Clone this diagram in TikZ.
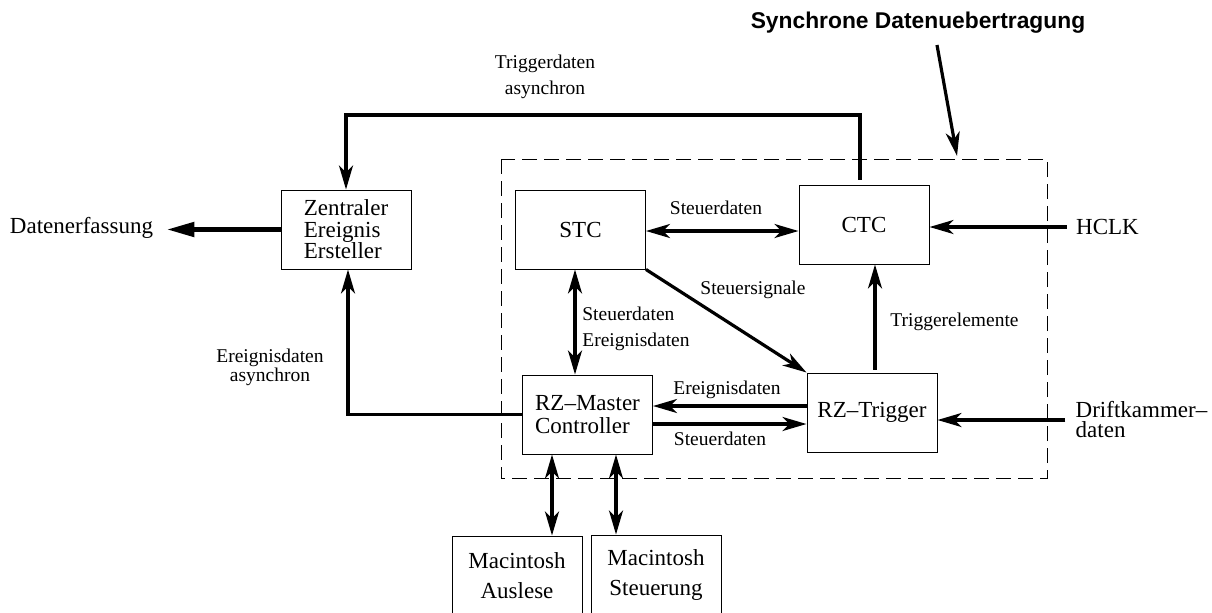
\documentclass[tikz,border=0pt]{standalone}
\usepackage{fontspec}
\setmainfont{Liberation Serif}
\newfontfamily\headfont{Liberation Sans}
\usetikzlibrary{arrows.meta}

\begin{document}
\begin{tikzpicture}[x=0.5pt,y=-0.5pt,
  >={Stealth[length=12pt,width=7pt,inset=3.5pt]},
  blk/.style={draw,line width=0.5pt,minimum width=65pt,minimum height=39.5pt,
    inner sep=0pt,align=left,font=\fontsize{11.5}{11.5}\selectfont},
  macblk/.style={blk,align=center,font=\fontsize{11.5}{15}\selectfont},
  big/.style={inner sep=0pt,align=left,font=\fontsize{11.5}{10}\selectfont},
  lbl/.style={inner sep=0pt,font=\fontsize{9.75}{13}\selectfont},
  conn/.style={line width=1.6pt},
  syncframe/.style={line width=0.5pt,dash pattern=on 7.5pt off 3.5pt}]
  \useasboundingbox (0,0) rectangle (1212,612);

  \draw[syncframe] (501,159) rectangle (1047,478);

  \node[blk,font=\fontsize{11.5}{10.75}\selectfont] (zee) at (346,229.5) {Zentraler\\Ereignis\\Ersteller};
  \node[blk] (stc) at (580.5,229.5) {STC};
  \node[blk] (ctc) at (864,224.5) {CTC};
  \node[blk] (master) at (587.5,414.5) {RZ–Master\\Controller};
  \node[blk] (trigger) at (872,412.5) {RZ–Trigger};
  \node[macblk] (mac1) at (517,575.5) {Macintosh\\Auslese};
  \node[macblk] (mac2) at (656,574.5) {Macintosh\\Steuerung};

  \node[big,inner xsep=6.5pt] (dat) at (81.5,228) {Datenerfassung};
  \node[big,inner xsep=4.5pt] (hclk) at (1107.5,227) {HCLK};
  \node[big,inner xsep=5pt] (drift) at (1141.5,420) {Driftkammer–\\daten};
  \node[inner sep=0pt,font=\headfont\bfseries\fontsize{11.4}{12}\selectfont] (title) at (918,23) {Synchrone Datenuebertragung};

  \node[lbl,align=center] (trglbl) at (545,77) {Triggerdaten\\asynchron};
  \node[lbl,align=center,font=\fontsize{9.75}{9.5}\selectfont] (evlbl) at (270,367.5) {Ereignisdaten\\asynchron};
  \node[lbl] (sd1) at (716,208) {Steuerdaten};
  \node[lbl] (ss) at (753,290) {Steuersignale};
  \node[lbl,anchor=west,align=left] (sdev) at (582,329) {Steuerdaten\\Ereignisdaten};
  \node[lbl] (trel) at (954.5,322) {Triggerelemente};
  \node[lbl] (ev2) at (727,390) {Ereignisdaten};
  \node[lbl] (sd2) at (720,439) {Steuerdaten};

  \coordinate (top) at (0,115);
  \coordinate (synctail) at (937,45);
  \coordinate (synctip) at (957,156);

  \draw[conn,->] (synctail) -- (synctip);
  \draw[conn,->] ([xshift=-2pt,yshift=2.5pt]ctc.north) -- ([xshift=-2pt]ctc.north |- top) -| (zee.north);
  \draw[line width=2.5pt,-{Triangle[length=14pt,width=7pt]}] (zee.west) -- (zee.west -| dat.east);
  \draw[conn,<->] ([yshift=-0.75pt]stc.east) -- ([yshift=-0.75pt]stc.east -| ctc.west);
  \draw[conn,->] (hclk.west) -- (hclk.west -| ctc.east);
  \draw[conn,<->] ([xshift=-2.75pt]stc.south) -- ([xshift=-2.75pt]stc.south |- master.north);
  \draw[conn,->] (stc.south east) -- (trigger.north west);
  \draw[conn,->] ([xshift=1.5pt,yshift=1.5pt]trigger.north) -- ([xshift=1.5pt]trigger.north |- ctc.south);
  \draw[conn,->] ([yshift=3.25pt]trigger.west) -- ([yshift=3.25pt]trigger.west -| master.east);
  \draw[conn,->] ([yshift=-4.75pt]master.east) -- ([yshift=-4.75pt]master.east -| trigger.west);
  \draw[conn,->] (drift.west) -- (drift.west -| trigger.east);
  \draw[conn,->] (master.west) -| ([xshift=1pt]zee.south);
  \draw[conn,<->] ([xshift=-17.75pt]master.south) -- ([xshift=-17.75pt]master.south |- mac1.north);
  \draw[conn,<->] ([xshift=14.25pt]master.south) -- ([xshift=14.25pt]master.south |- mac2.north);
\end{tikzpicture}
\end{document}
